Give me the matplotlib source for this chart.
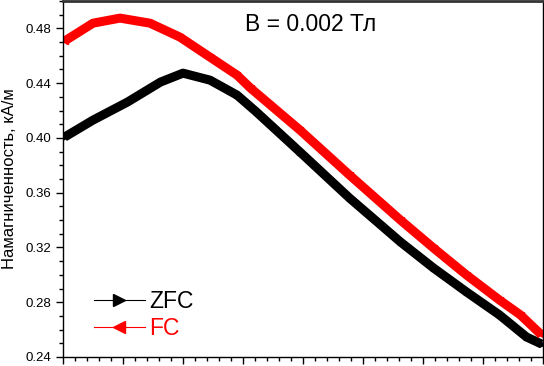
import matplotlib
matplotlib.use('Agg')
import matplotlib.pyplot as plt
from matplotlib.lines import Line2D
from matplotlib.ticker import MultipleLocator

# data (x axis has no visible labels)
t_zfc = [1, 20, 43, 65, 80, 98, 116, 129, 158, 191, 225, 247, 269, 291, 309, 319]
m_zfc = [0.4006, 0.4130, 0.4262, 0.4408, 0.4473, 0.4422, 0.4313, 0.4189,
         0.3897, 0.3561, 0.3240, 0.3050, 0.2875, 0.2707, 0.2546, 0.2495]
t_fc = [1, 20, 38, 58, 78, 98, 116, 125, 158, 191, 225, 247, 269, 291, 305, 319]
m_fc = [0.4707, 0.4838, 0.4875, 0.4838, 0.4736, 0.4590, 0.4459, 0.4364,
        0.4057, 0.3729, 0.3400, 0.3196, 0.2999, 0.2816, 0.2707, 0.2561]

plt.rcParams['font.family'] = ['Liberation Sans', 'DejaVu Sans']

fig = plt.figure(figsize=(5.44, 3.66), dpi=100)
ax = fig.add_axes([63/544, 9/366, 480/544, 356/366])

ax.plot(t_zfc, m_zfc, color='black', lw=6.5, marker='>', ms=5,
        solid_joinstyle='round', solid_capstyle='butt')
ax.plot(t_fc, m_fc, color='red', lw=6.5, marker='<', ms=5,
        solid_joinstyle='round', solid_capstyle='butt')

ax.set_xlim(0, 320)
ax.set_ylim(0.24, 0.50)
ax.xaxis.set_major_locator(MultipleLocator(40))
ax.xaxis.set_minor_locator(MultipleLocator(8))
ax.yaxis.set_major_locator(MultipleLocator(0.04))
ax.yaxis.set_minor_locator(MultipleLocator(0.01))
ax.yaxis.set_major_formatter(plt.FormatStrFormatter('%.2f'))
ax.tick_params(which='major', length=5, width=1, labelsize=9.5)
ax.tick_params(which='minor', length=3, width=1)
ax.tick_params(axis='x', labelbottom=False)
for s in ax.spines.values():
    s.set_linewidth(1)
ax.spines['top'].set_linewidth(2)
ax.spines['top'].set_color('#333333')

ax.set_ylabel('Намагниченность, кА/м', fontsize=12, labelpad=6)
ax.text(0.379, 0.933, 'B = 0.002 Тл', transform=ax.transAxes, fontsize=16.5,
        ha='left', va='center')

handles = [Line2D([], [], color='black', lw=0.8, marker='>', ms=8),
           Line2D([], [], color='red', lw=0.8, marker='<', ms=8)]
leg = ax.legend(handles, ['ZFC', 'FC'], loc='lower left', bbox_to_anchor=(0.022, -0.01),
                frameon=False, fontsize=16.5, handlelength=2.2, handletextpad=0.2,
                labelspacing=0.15)
leg.get_texts()[1].set_color('red')

fig.savefig('out.png', dpi=100)
